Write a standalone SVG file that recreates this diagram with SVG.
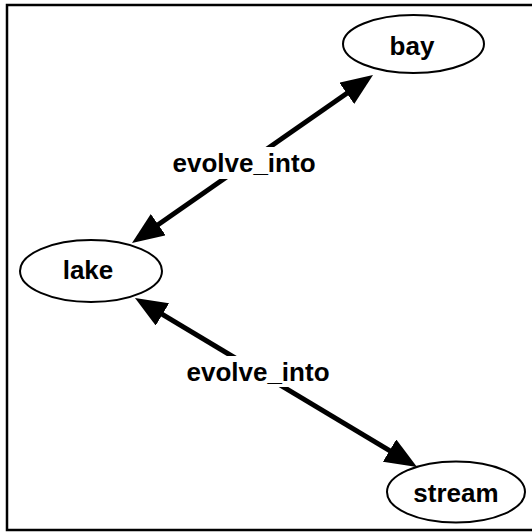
<svg xmlns="http://www.w3.org/2000/svg" width="532" height="532" viewBox="0 0 532 532">
<style>
.node ellipse{fill:#fff;stroke:#000;stroke-width:2}
text{font-family:"Liberation Sans",Arial,sans-serif;font-weight:bold;font-size:26px;text-anchor:middle;fill:#000}
.edge line{stroke:#000;stroke-width:5}
.lbg{fill:#fff;stroke:none}
</style>
<defs>
<marker id="arr" markerUnits="userSpaceOnUse" markerWidth="34" markerHeight="28" viewBox="0 0 34 28" refX="2" refY="13" orient="auto-start-reverse">
<path d="M0,0 L32,13 L0,26 Z" fill="#000"/>
</marker>
</defs>
<rect x="7" y="5" width="530" height="525" fill="#fff" stroke="#000" stroke-width="2.5"/>
<g id="edges" class="edge">
<line x1="156.6" y1="225.8" x2="348.4" y2="92.2" marker-start="url(#arr)" marker-end="url(#arr)"/>
<rect class="lbg" x="170" y="147" width="148" height="32"/>
<text x="244" y="172">evolve_into</text>
<line x1="160.7" y1="313.4" x2="391.3" y2="451.6" marker-start="url(#arr)" marker-end="url(#arr)"/>
<rect class="lbg" x="185" y="356" width="147" height="31"/>
<text x="258" y="381">evolve_into</text>
</g>
<g id="bay" class="node"><ellipse cx="413.5" cy="44" rx="70.5" ry="29"/><text x="412" y="55">bay</text></g>
<g id="lake" class="node"><ellipse cx="91" cy="271" rx="71" ry="31"/><text x="88" y="279">lake</text></g>
<g id="stream" class="node"><ellipse cx="456" cy="492" rx="69" ry="30.5"/><text x="456" y="502">stream</text></g>
</svg>
